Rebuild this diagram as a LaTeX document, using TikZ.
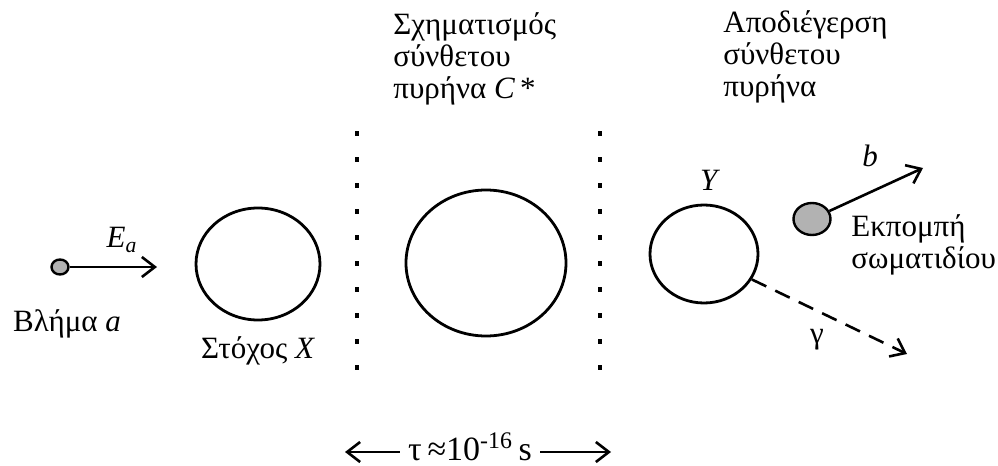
\documentclass[tikz,border=0pt]{standalone}
\usepackage{fontspec}
\setmainfont{Liberation Serif}
\usetikzlibrary{positioning, calc, arrows.meta, shapes.geometric}

\begin{document}
\begin{tikzpicture}[x=0.5pt, y=-0.5pt,
  every node/.style={font=\fontsize{15.5}{16}\selectfont, inner sep=1pt},
  nucleus/.style={draw, ellipse, line width=1.4pt, inner sep=0pt},
  particle/.style={draw, ellipse, line width=1.2pt, fill=gray!60, inner sep=0pt},
  label/.style={align=left, anchor=north west},
  arrow/.style={-{Straight Barb[length=6.5pt, width=10pt]}, line width=1.3pt},
  border/.style={line width=1.7pt, dash pattern=on 2.5pt off 10.5pt}]
  \useasboundingbox (0,0) rectangle (998,466);

  % projectile and target
  \node[particle, minimum width=8.5pt, minimum height=7.5pt] (a) at (60,267) {};
  \coordinate (aend) at (157,267);
  \node (Ea) at (122,240) {\textit{E}\textsubscript{\textit{a}}};
  \node (alabel) at (67,324) {Βλήμα \textit{a}};
  \node[nucleus, minimum width=62pt, minimum height=56pt] (X) at (258,264) {};
  \node (Xlabel) at (258,351) {Στόχος \textit{X}};

  % compound nucleus
  \coordinate (l1) at (357,131); \coordinate (l2) at (357,390);
  \coordinate (r1) at (600,131); \coordinate (r2) at (600,390);
  \node[nucleus, minimum width=80pt, minimum height=73pt] (C) at (486,263) {};
  \node[label] (Clabel) at (391,10) {Σχηματισμός\\σύνθετου\\πυρήνα \textit{C}\,*};
  \node[inner xsep=4pt, inner ysep=0pt, font=\fontsize{17}{18}\selectfont] (tau) at (470,447)
    {τ\,≈10\textsuperscript{-16}\,s};
  \coordinate (tl) at (345,452); \coordinate (tr) at (611,452);

  % decay
  \node[label] (Dlabel) at (721,8) {Αποδιέγερση\\σύνθετου\\πυρήνα};
  \node[nucleus, minimum width=54pt, minimum height=49pt] (Y) at (704,254) {};
  \node (Ylabel) at (710,180) {\textit{Y}};
  \node[particle, minimum width=18.5pt, minimum height=16pt] (b) at (812,219) {};
  \coordinate (bend) at (923,168);
  \node (blabel) at (870,156) {\textit{b}};
  \node[label] (Blabel) at (849,212) {Εκπομπή\\σωματιδίου};
  \coordinate (gend) at (907,354);
  \node (glabel) at (817,340) {γ};

  \draw[arrow] (a) -- (aend);
  \draw[border] (l1) -- (l2);
  \draw[border] (r1) -- (r2);
  \draw[arrow] (tau.west |- tl) -- (tl);
  \draw[arrow] (tau.east |- tr) -- (tr);
  \draw[arrow] (b) -- (bend);
  \draw[arrow, dash pattern=on 8pt off 5pt] (Y.-28) -- (gend);
\end{tikzpicture}
\end{document}
